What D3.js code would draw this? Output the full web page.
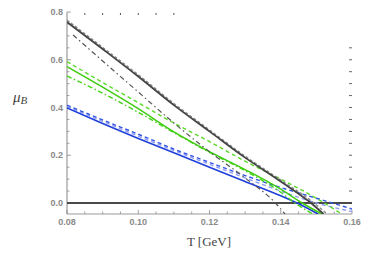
<!DOCTYPE html>
<html lang="en">
<head>
<meta charset="utf-8" />
<style>
  body { margin: 0; background: #fff; }
  .tick-label { font: bold 9px "Liberation Sans", Arial, sans-serif; fill: #8a8a8a; }
  .axis-title { font-family: "Liberation Serif", "DejaVu Serif", serif; fill: #444; }
</style>
</head>
<body>
<script src="https://cdn.jsdelivr.net/npm/d3@7"></script>
<script>
  // curves: [T, muB]
  const darkSolid   = [[0.08,0.758],[0.09,0.645],[0.10,0.53],[0.11,0.41],[0.12,0.30],[0.13,0.19],[0.14,0.09],[0.1485,0],[0.152,-0.046]];
  const darkDashed  = [[0.08,0.766],[0.09,0.652],[0.10,0.537],[0.11,0.417],[0.12,0.306],[0.13,0.196],[0.14,0.096],[0.149,0.004],[0.153,-0.046]];
  const darkDashDot = [[0.0817,0.704],[0.09,0.595],[0.10,0.465],[0.11,0.335],[0.12,0.215],[0.13,0.105],[0.1385,0],[0.1412,-0.046]];
  const greenDashed = [[0.08,0.592],[0.09,0.505],[0.10,0.42],[0.11,0.335],[0.12,0.257],[0.13,0.175],[0.14,0.10],[0.15,0.02],[0.1566,-0.041]];
  const greenSolid  = [[0.08,0.571],[0.09,0.485],[0.10,0.395],[0.11,0.298],[0.12,0.215],[0.13,0.14],[0.14,0.058],[0.146,0],[0.1515,-0.046]];
  const greenDashDot= [[0.08,0.532],[0.09,0.46],[0.10,0.38],[0.11,0.295],[0.12,0.212],[0.13,0.135],[0.14,0.045],[0.144,0],[0.149,-0.046]];
  const blueSolid   = [[0.08,0.398],[0.09,0.333],[0.10,0.27],[0.11,0.21],[0.12,0.15],[0.13,0.09],[0.14,0.03],[0.145,-0.003],[0.1505,-0.046]];
  const blueDashed  = [[0.08,0.41],[0.09,0.348],[0.10,0.288],[0.11,0.226],[0.12,0.17],[0.13,0.115],[0.14,0.065],[0.15,0.02],[0.16,-0.025]];
  const blueDashed2 = [[0.08,0.404],[0.09,0.342],[0.10,0.28],[0.11,0.22],[0.12,0.162],[0.13,0.105],[0.14,0.05],[0.15,0.0],[0.16,-0.036]];

  const xMajor = [0.08, 0.10, 0.12, 0.14, 0.16];
  const xLabels = ["0.08", "0.10", "0.12", "0.14", "0.16"];
  const yMajor = [0.0, 0.2, 0.4, 0.6, 0.8];
  const yLabels = ["0.0", "0.2", "0.4", "0.6", "0.8"];

  const width = 374, height = 258;
  const x = d3.scaleLinear().domain([0.08, 0.16]).range([67, 352]);
  const y = d3.scaleLinear().domain([0, 0.8]).range([203, 12]);
  const yBottom = -0.046;

  const svg = d3.select("body").append("svg")
    .attr("width", width).attr("height", height);

  svg.append("clipPath").attr("id", "plot")
    .append("rect")
    .attr("x", x(0.08)).attr("y", y(0.8) + 1)
    .attr("width", x(0.16) - x(0.08)).attr("height", y(yBottom) - y(0.8) - 1);

  const xMinor = d3.range(0.08, 0.16001, 0.005);
  const yMinor = d3.range(0, 0.8001, 0.05);

  // frame lines
  svg.append("line").attr("x1", x(0.08)).attr("x2", x(0.08))
    .attr("y1", y(0.8)).attr("y2", y(yBottom))
    .attr("stroke", "#9a9a9a").attr("stroke-width", 1.2);
  svg.append("line").attr("x1", x(0.08)).attr("x2", x(0.16))
    .attr("y1", y(yBottom)).attr("y2", y(yBottom))
    .attr("stroke", "#9a9a9a").attr("stroke-width", 1.2);

  // left ticks
  svg.selectAll(".ly").data(yMinor).join("line")
    .attr("x1", x(0.08)).attr("x2", d => x(0.08) + (Math.abs(d * 5 - Math.round(d * 5)) < 1e-6 ? 4 : 2.5))
    .attr("y1", d => y(d)).attr("y2", d => y(d))
    .attr("stroke", "#8a8a8a").attr("stroke-width", 0.8);
  // bottom ticks
  svg.selectAll(".bx").data(xMinor).join("line")
    .attr("x1", d => x(d)).attr("x2", d => x(d))
    .attr("y1", y(yBottom)).attr("y2", d => y(yBottom) - (Math.abs(d * 50 - Math.round(d * 50)) < 1e-6 ? 4 : 2.5))
    .attr("stroke", "#8a8a8a").attr("stroke-width", 0.8);
  // top ticks (visible only on the left part)
  svg.selectAll(".tx").data(xMinor.filter(d => d > 0.081 && d < 0.111)).join("line")
    .attr("x1", d => x(d)).attr("x2", d => x(d))
    .attr("y1", y(0.8) + 1).attr("y2", y(0.8) + 3)
    .attr("stroke", "#555").attr("stroke-width", 1);
  // right ticks
  svg.selectAll(".ry").data(yMinor.filter(d => d < 0.66)).join("line")
    .attr("x1", x(0.16) - 3).attr("x2", x(0.16))
    .attr("y1", d => y(d)).attr("y2", d => y(d))
    .attr("stroke", "#666").attr("stroke-width", 1);

  // tick labels
  svg.selectAll(".xl").data(xMajor).join("text")
    .attr("class", "tick-label")
    .attr("x", d => x(d)).attr("y", 225)
    .attr("text-anchor", "middle")
    .text((d, i) => xLabels[i]);
  svg.selectAll(".yl").data(yMajor).join("text")
    .attr("class", "tick-label")
    .attr("x", x(0.08) - 4).attr("y", d => y(d) + 3)
    .attr("text-anchor", "end")
    .text((d, i) => yLabels[i]);

  // axis titles
  const yt = svg.append("text").attr("class", "axis-title")
    .attr("x", 13).attr("y", 102).style("font-style", "italic");
  yt.append("tspan").attr("font-size", 15).text("μ");
  yt.append("tspan").attr("font-size", 11).attr("dy", 2).text("B");
  svg.append("text").attr("class", "axis-title")
    .attr("x", 209).attr("y", 246).attr("text-anchor", "middle")
    .attr("font-size", 13).text("T [GeV]");

  const g = svg.append("g").attr("clip-path", "url(#plot)");

  // zero line
  g.append("line").attr("x1", x(0.08)).attr("x2", x(0.16))
    .attr("y1", y(0)).attr("y2", y(0))
    .attr("stroke", "#4a4a4a").attr("stroke-width", 1.8);

  const line = d3.line().x(d => x(d[0])).y(d => y(d[1])).curve(d3.curveMonotoneX);

  const curves = [
    { data: blueDashed2, color: "#8f9cf0", w: 1.4, dash: "4,3" },
    { data: blueDashed, color: "#3355e6", w: 1.4, dash: "4,3" },
    { data: blueSolid, color: "#1f3fdb", w: 1.6, dash: null },
    { data: greenDashDot, color: "#44d418", w: 1.4, dash: "5,2.5,1.5,2.5" },
    { data: greenSolid, color: "#3fcc10", w: 1.5, dash: null },
    { data: greenDashed, color: "#5ada28", w: 1.4, dash: "4,3" },
    { data: darkDashDot, color: "#555", w: 1.2, dash: "5,3,1.5,3" },
    { data: darkDashed, color: "#8a8a8a", w: 1.4, dash: "3,2" },
    { data: darkSolid, color: "#444", w: 1.8, dash: null }
  ];

  g.selectAll("path.curve").data(curves).join("path")
    .attr("class", "curve")
    .attr("d", d => line(d.data))
    .attr("fill", "none")
    .attr("stroke", d => d.color)
    .attr("stroke-width", d => d.w)
    .attr("stroke-dasharray", d => d.dash);
</script>
</body>
</html>
